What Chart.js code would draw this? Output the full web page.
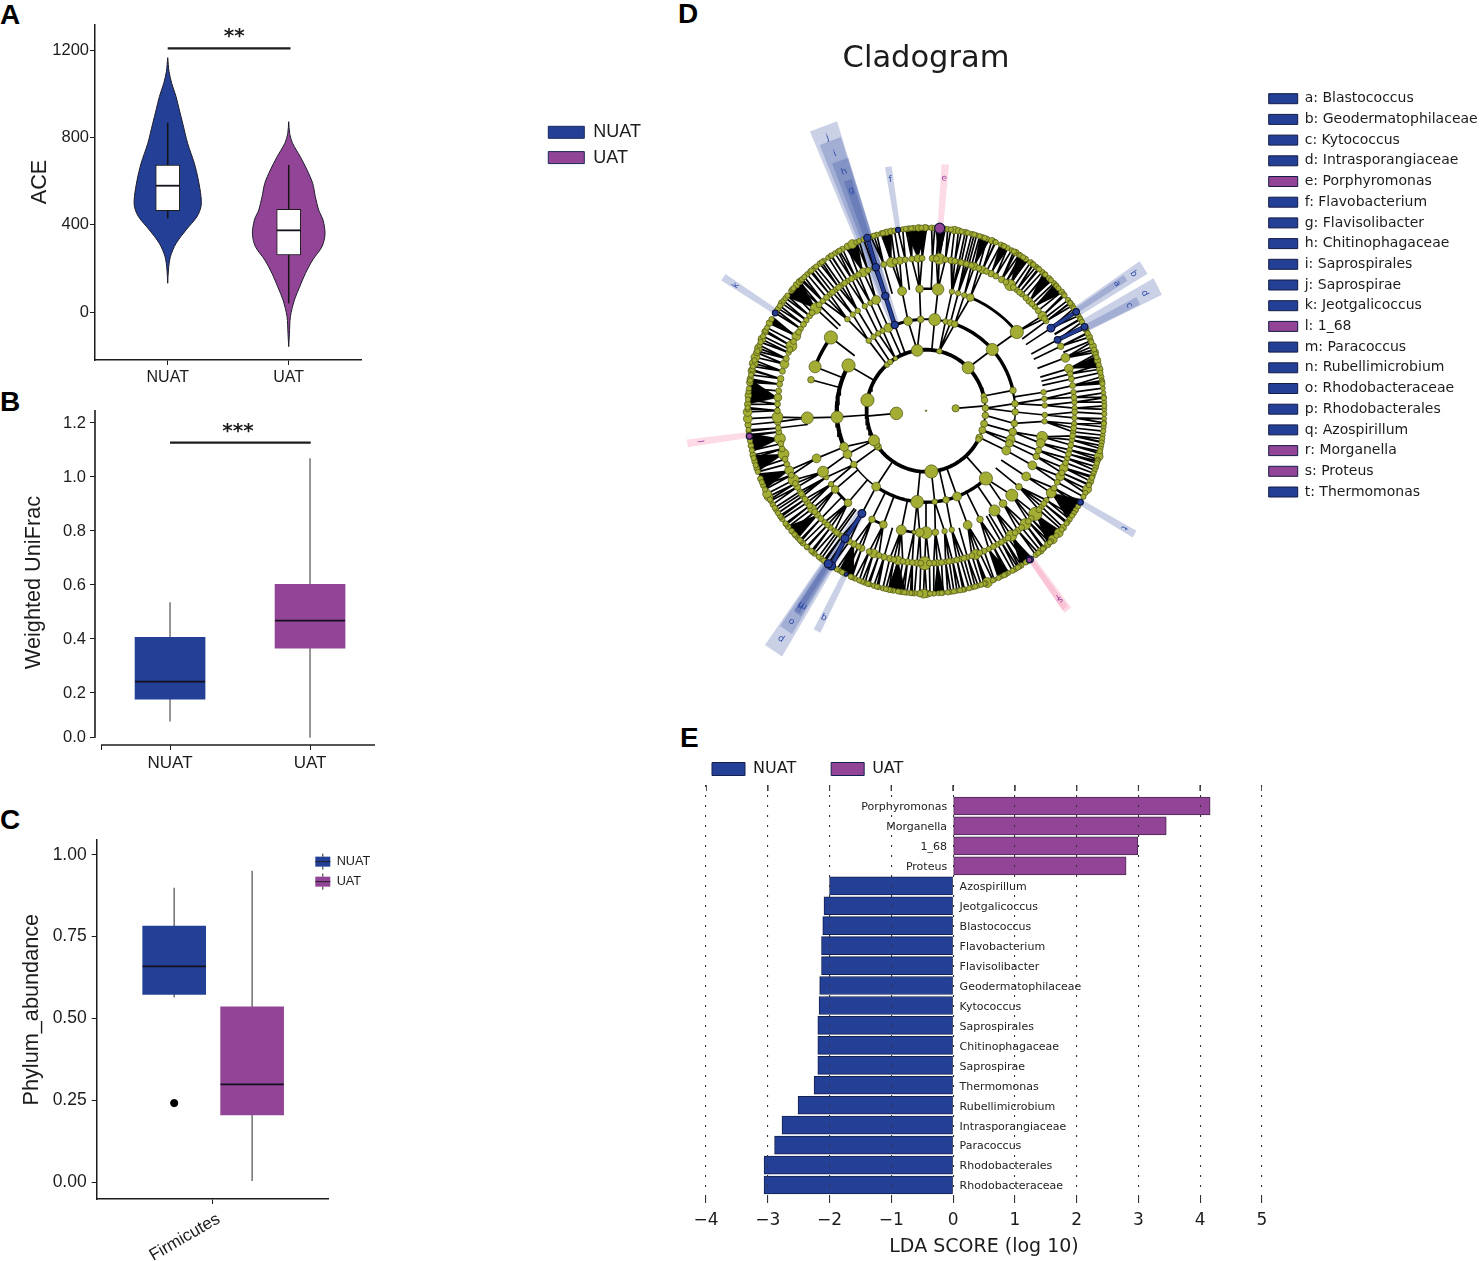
<!DOCTYPE html>
<html>
<head>
<meta charset="utf-8">
<title>NUAT vs UAT</title>
<script src="https://cdn.jsdelivr.net/npm/chart.js@4/dist/chart.umd.min.js"></script>
<style>
html, body { margin: 0; padding: 0; background: #fff; }
#page { position: relative; width: 1482px; height: 1261px; overflow: hidden; background: #fff; }
#page canvas { position: absolute; }
.letter { position: absolute; font: bold 28px "Liberation Sans", sans-serif; color: #000; line-height: 28px; }
</style>
</head>
<body>
<div id="page">
  <div class="letter" style="left:0;top:1px">A</div>
  <div class="letter" style="left:0;top:388px">B</div>
  <div class="letter" style="left:0;top:806px">C</div>
  <div class="letter" style="left:678px;top:0">D</div>
  <div class="letter" style="left:680px;top:724px">E</div>
</div>
<script>
// colours
const navy = '#233f96';
const purple = '#924597';
const ink = '#1c1c1c';
const olive = '#a3ad33';

// panel A, violins: value, half width of the violin in category units
const groups = ['NUAT', 'UAT'];
const aNuatValues = [1168, 1104, 1050, 989, 928, 866, 774, 683, 606, 530, 484, 438, 377, 315, 254, 193, 132];
const aNuatWidths = [0, .011, .033, .069, .096, .124, .165, .22, .253, .275, .275, .242, .152, .069, .022, .006, 0];
const aUatValues = [874, 820, 774, 713, 652, 591, 530, 468, 422, 357, 300, 239, 177, 116, 55, -21, -98, -159];
const aUatWidths = [0, .008, .033, .096, .152, .198, .22, .248, .284, .3, .275, .198, .138, .091, .047, .014, .006, 0];
// lo, q1, median, q3, hi
const aNuatBox = [430, 465, 580, 675, 869];
const aUatBox = [40, 262, 375, 471, 675];
const aTicks = [0, 400, 800, 1200];

// panel B
const bNuatBox = [.094, .177, .242, .406, .536];
const bUatBox = [.034, .366, .468, .602, 1.069];
const bTicks = [.034, .2, .4, .6, .8, 1, 1.2];

// panel C
const cNuatBox = [.564, .574, .659, .782, .899];
const cUatBox = [.004, .206, .299, .536, .951];
const cOutlier = .242;
const cTicks = [0, .25, .5, .75, 1];

// panel E
const ldaNames = ['Porphyromonas', 'Morganella', '1_68', 'Proteus', 'Azospirillum', 'Jeotgalicoccus', 'Blastococcus',
  'Flavobacterium', 'Flavisolibacter', 'Geodermatophilaceae', 'Kytococcus', 'Saprospirales', 'Chitinophagaceae',
  'Saprospirae', 'Thermomonas', 'Rubellimicrobium', 'Intrasporangiaceae', 'Paracoccus', 'Rhodobacterales', 'Rhodobacteraceae'];
const ldaScores = [4.16, 3.45, 2.99, 2.8, -2, -2.09, -2.11, -2.13, -2.13, -2.16, -2.17, -2.19, -2.19, -2.19, -2.25, -2.51, -2.77, -2.89, -3.06, -3.06];
const ldaTicks = [-4, -3, -2, -1, 0, 1, 2, 3, 4, 5];

// panel D legend
const cladeNames = ['a: Blastococcus', 'b: Geodermatophilaceae', 'c: Kytococcus', 'd: Intrasporangiaceae', 'e: Porphyromonas',
  'f: Flavobacterium', 'g: Flavisolibacter', 'h: Chitinophagaceae', 'i: Saprospirales', 'j: Saprospirae', 'k: Jeotgalicoccus',
  'l: 1_68', 'm: Paracoccus', 'n: Rubellimicrobium', 'o: Rhodobacteraceae', 'p: Rhodobacterales', 'q: Azospirillum',
  'r: Morganella', 's: Proteus', 't: Thermomonas'];
const cladeUat = ['e', 'l', 'r', 's'];

// panel D tree: nodes as [angle clockwise from top, radius in px], one list per ring
const level1 = [[85.5, 3.3], [265, 5.7]];
const level2 = [[-8.5, 5.3], [13, 2.5], [45.2, 5.5], [76, 2.5], [80, 3], [87.5, 3], [94.4, 3], [102.4, 3.2], [108.6, 3.2], [116, 3.2], [118, 2.6],
  [174.8, 6], [233.6, 3], [236, 3], [241, 5], [280, 6], [319, 2.5], [323, 2.5], [329, 2]];
const level3 = [[-40, 2.5], [-36, 2.5], [-32.4, 2.5], [-29, 2.5], [-24.9, 4], [-11.6, 4], [-3.4, 3], [5.6, 5.5], [12.6, 2.5], [15.9, 3], [18.8, 3], [48, 5.5],
  [77.2, 3], [85.6, 3], [90.8, 3], [98, 3], [103.4, 3.5], [108.3, 4], [111, 3.5], [115.8, 4],
  [137.8, 6], [159.6, 4], [167, 3], [174.4, 2.5], [185.7, 5.8], [214, 4], [234, 3], [241.7, 4], [246.7, 4], [266, 5.5], [299.7, 6]];
const level4 = [[-41.4, 2.5], [-38, 2.5], [-35, 2.5], [-31, 2.5], [-27.9, 2.5], [-24.8, 4], [-11.6, 4], [-3.1, 3.5], [5.8, 5.3], [12.6, 2.5], [15.7, 2.5], [18.8, 2.5], [21.9, 3.5], [49.8, 6],
  [81.3, 2.5], [84.4, 2.5], [87.5, 2.5], [92, 2.5], [95, 2.5], [102.4, 5], [105.4, 4], [109, 3], [112, 3], [116.6, 4],
  [122.6, 4], [128.6, 3], [133.8, 5.5], [139.6, 3.5], [144.8, 5], [153, 3], [159.5, 4], [167.5, 2.5], [171, 2.5], [175.5, 3],
  [180, 5.5], [183, 4], [185.8, 1.8], [192, 4.5], [201, 3.5], [207, 3], [221, 3.5], [229.8, 3.5], [233, 2.5], [237, 2.5], [240, 5], [247, 4], [266.6, 5.5], [284.7, 3], [291.1, 5.5], [306.9, 6]];
const level5 = [[2.5, 3], [5.1, 5], [9.7, 3], [12.8, 2.5], [14.9, 2.5], [16.7, 2.5], [19, 3.5], [22.4, 3.5], [26, 3], [30.6, 3], [34.5, 5], [37.6, 2.5], [40.2, 2.5], [44, 3], [47, 2.5], [51.5, 4], [54, 2.5],
  [65, 3], [69.7, 4], [74, 4], [83, 2.5], [86.8, 2.5], [89, 2.5], [92.7, 2.5], [94.9, 2.5], [98, 2.5], [101, 2.5], [104.9, 2.5], [108.2, 2.5], [112, 4], [115.5, 4],
  [122.6, 4.5], [125.9, 2.5], [129, 2.5], [132.6, 6], [138, 5], [141.8, 3], [145, 5], [148, 2.5], [151.2, 2.5], [155, 2.5], [160.5, 4.5], [163.8, 2.5], [166.6, 2.5], [169.7, 2.5], [172.4, 2.5], [175.7, 3],
  [180.5, 6], [183.5, 3], [187.2, 3], [190.9, 4], [194.1, 3], [196.4, 3], [200.7, 4], [205.6, 3], [209, 3], [216, 2.5], [218, 2.5], [220, 2.5], [223, 2.5], [227, 3], [230, 4], [233, 3], [236, 2.5], [238, 2.5], [240, 3], [243, 5], [247, 4],
  [253.5, 5], [259.5, 5], [265.8, 3], [267.6, 5], [275, 3.5], [282.1, 3], [287.8, 4], [292.4, 2.5], [295.1, 5], [299.3, 4], [302.5, 2.5], [306.4, 2.5], [312.1, 5], [316, 2.5], [319.7, 2.5], [322.5, 2.5], [325.2, 2.5], [328.2, 2.5], [331.5, 2.5], [335.1, 4], [346.6, 4.5], [349.8, 3.5], [356.9, 3.5]];
// smaller nodes of the fifth ring packed between the ones above
const level5Small = [4, 7.5, 11.2, 13.7, 15.8, 17.8, 20.8, 24, 28, 32.5, 36, 39, 42.2, 45.5, 49, 52.8, 76, 78, 80.5, 85, 90.5, 96.5, 99.5, 103, 106.5, 110, 114, 118, 120.5, 127.5, 130.5, 135, 136.5, 140, 143.2, 146.5, 149.5, 153, 157, 158.8, 162, 165.2, 168, 171, 174, 177, 178.7, 182, 185.3, 189, 192.5, 198.5, 202.5, 207, 211, 214.5, 217, 221.5, 225, 228.5, 231.5, 234.5, 237, 241.5, 245, 249.5, 251.5, 255.5, 257.5, 262, 263.5, 270, 272.5, 277.5, 280, 285, 290, 293.7, 297, 301, 304.5, 308.5, 310, 314, 318, 321, 324, 326.8, 330, 333, 337, 339.5, 343.5, 348, 352, 354.5, 358.5];
// fifth ring sectors with no branch going inward, the nodes hang on the thick arc
const openSectors = [[23, 49], [248, 262], [270, 288], [283, 311]];
const level6 = [[.2, 2.5], [1.8, 2.6], [9.2, 3.5], [10.5, 3], [12.7, 2.7], [14.9, 2.4], [16.5, 2.2], [18.4, 2.4], [20, 2.4], [21.7, 3], [24.8, 2.4], [27.2, 2.5], [28.7, 2.3], [30.2, 3], [34, 2.5], [35.9, 2.7], [38.1, 2.4], [40.7, 2.4], [43.6, 2.5], [45.8, 2.4], [49.5, 2.7], [52.8, 2.5], [55, 2.7], [58.7, 2.5],
  [63.4, 3], [66.3, 3], [69.4, 3.2], [71.4, 3.2], [74.1, 3], [76.9, 3], [79.3, 2.5], [82.9, 2.2], [84.4, 2.2], [87.3, 2.3], [89.6, 2.2], [92.5, 2.2], [95.1, 2.3], [97.7, 2.2], [99.8, 2.2], [103.5, 3], [104.5, 4], [107.8, 2.7], [112.7, 3], [115.4, 4],
  [122.9, 2.5], [126.4, 2.5], [129.7, 3], [131.9, 4], [134.7, 4], [137, 3], [140, 3], [142, 2.5], [147.7, 2.5], [150, 2.5], [152.5, 2.2], [155, 2.2], [157.5, 2.2], [159.9, 4.5], [163, 2.2], [165, 2.2], [167.5, 2.4], [170, 2.2], [172, 2.3], [174.5, 2.2], [176, 2.3], [179.8, 3.5],
  [180.8, 4], [182, 3], [183.7, 2.5], [188, 2.5], [190.5, 2.4], [194, 2.4], [197, 2.4], [200, 2.4], [203.5, 2.4], [209, 2.2], [216, 2.5], [218.7, 2.5], [221.7, 2.4], [223.6, 2.6], [226, 2.4], [228.6, 2.4], [230.6, 2.6], [233.7, 2.5], [237.1, 2.4], [239.2, 2.5], [242, 4], [243, 4], [245.9, 2.5], [248.2, 2.6], [251.6, 2.6], [253.9, 2.6], [256, 2.8], [259, 2.6],
  [265.6, 3], [267.5, 4], [269.6, 4], [272, 3], [274.8, 3], [278.9, 3], [280, 3], [282.6, 3.5], [285, 4], [287, 4], [288.5, 3], [290, 3.5], [293, 3.5], [295.5, 3], [298.6, 3], [306, 3], [310.9, 2.4], [313.4, 3], [314.8, 3], [318.2, 2.4], [321, 2.4], [323.5, 2.6], [325, 2.4], [326.8, 2.4], [329.3, 2.4], [332.1, 2.6], [333.9, 3], [335.6, 4], [344, 2.5], [345.6, 2.6], [347.2, 3], [348.7, 3], [354.4, 2.6], [356, 2.6], [357.6, 3], [359.7, 3]];
// further leaves packed between the outer nodes
const packedLeaves = [2.8, 4, 6, 7, 8, 11.5, 13.5, 15.7, 17.5, 19.2, 22.8, 23, 25.8, 26, 29.5, 31.5, 32, 33, 36.8, 37, 39, 39.4, 41.8, 42, 44.5, 46.8, 47, 48, 50.5, 51, 53.8, 54, 56, 59.8, 60, 61, 64.8, 65, 67.5, 68, 70.5, 72, 73, 75.5, 78, 80.5, 81, 81.5, 85.8, 86, 88.5, 91, 93.8, 94, 96.4, 98.8, 100, 101, 102, 102.8, 105.5, 106, 106.7, 109, 110, 111, 111.5, 113.8, 114, 116.7, 118,
  121.5, 124, 125, 127.5, 128, 130.5, 133, 135.5, 136, 138.5, 139, 141, 145.5, 146, 148.5, 149, 151, 153.5, 154, 156, 158, 160.5, 161, 162, 164, 166, 168, 169, 171, 173, 175, 177.5, 178.7,
  184.5, 185, 186.2, 187, 189, 191.5, 192, 193, 195.5, 196, 198.5, 199, 201, 202, 204.5, 205, 207, 208, 210, 214.5, 215, 217, 219.5, 220, 222, 224.5, 225, 227, 227.5, 229, 231.5, 232, 234.5, 235, 236, 238, 240.5, 241, 244.5, 247, 250.5, 252.7, 255, 257.5, 260.5,
  262.5, 263.5, 264, 270.5, 271, 273.5, 276, 277, 279.5, 281.3, 283, 284, 286, 289, 291, 292, 294, 296, 297, 300, 303.2, 304, 305, 307, 308, 309, 311.5, 312, 315.5, 316, 317, 319.5, 320, 322, 324.3, 327.8, 328, 330.5, 331, 337, 338, 339.5, 342, 343, 346, 349.8, 352.5, 353.5, 355.2, 358.5];
// collapsed clades, black wedges: apex ring, apex angle, first leaf angle, last leaf angle
const wedges = [[5, -3.1, -6.8, .5], [5, -13.4, -14.8, -11], [5, -25, -27, -22.5], [5, -47.9, -51.5, -44.5], [5, 5.1, 3, 6.5], [5, 19, 17.5, 21], [5, 26, 24.5, 27.5], [5, 34.5, 31, 35], [5, 44, 41, 45], [5, 47, 46, 50], [5, 74, 72.5, 76.5],
  [5, 122.6, 119, 127], [5, 132.6, 131, 137], [5, 145, 143.5, 148], [5, 155, 152, 156], [5, 175.7, 174, 177.5], [5, 190.9, 186.5, 192.5], [5, 209, 204, 209], [5, 227, 226, 231], [5, 247, 244.5, 250], [5, 253.5, 250.5, 256], [5, 259.5, 257, 263], [5, 275, 272, 280], [5, 299.3, 298.5, 301]];
// thick branches along the rings: ring, first angle, last angle, width
const ringArcs = [[2, 116, 436, 3.8], [2, 76, 116, 1.5], [3, 19, 76, 3.4], [3, -21, -3.4, 3], [3, -3.4, 19, 2], [3, 246.7, 299.7, 4.2], [3, 137.8, 214, 3.4], [3, 214, 246.7, 1.5], [3, 77, 116, 1.5],
  [4, 22, 49.8, 2.8], [4, 291, 307, 3.5], [4, 221, 232, 2.8], [4, 201, 207, 2.8], [4, 186, 192, 2.8], [4, -3.1, 5.8, 2.4], [5, 122.6, 132.6, 2.8], [5, 253.5, 275, 3]];
// biomarker nodes: letter, ring, angle, radius px
const cladeNodes = [['j', 3, -20.5, 3.3], ['i', 4, -20, 3.3], ['h', 5, -19.7, 3.3], ['g', 6, -19.2, 3.3], ['f', 6, -9, 2.3], ['e', 6, 4.4, 4.6], ['k', 6, -57.7, 2.6], ['l', 6, 262, 2.8],
  ['p', 4, 212.6, 3.5], ['o', 5, 213, 3.7], ['m', 6, 212, 3.7], ['n', 6, 213.2, 3.7], ['q', 6, 206.6, 1.7], ['b', 5, 57.2, 3.5], ['a', 6, 57.3, 3], ['d', 5, 62.3, 3], ['c', 6, 62.7, 3], ['t', 6, 120, 2.6], ['s', 6, 144.3, 3], ['r', 6, 144.6, 2.5]];
const cladeLinks = [['j', 'i'], ['i', 'h'], ['h', 'g'], ['p', 'o'], ['o', 'm'], ['b', 'a'], ['d', 'c']];
// shaded rays: letter, angle, half angle, inner ring, outer ring, ring of the letter
const cladeRays = [['j', -20.3, 2.8, 3, 9.95, 9.55], ['i', -20, 2.3, 4, 9.42, 8.96], ['h', -19.4, 1.9, 5, 8.7, 8.3], ['g', -19.2, 1, 6, 8, 7.65], ['f', -9, .8, 6, 8.1, 7.67], ['e', 4.6, .9, 6, 8.1, 7.64],
  ['k', -57.3, .9, 6, 8.1, 7.6], ['l', 262.4, .9, 6, 8.1, 7.6], ['p', 213.1, 2.1, 4, 9.4, 8.92], ['o', 213.2, 1.6, 5, 8.6, 8.26], ['m', 213, 1, 6, 7.95, 7.61], ['n', 213.4, .8, 6, 7.9, 7.66], ['q', 206.9, .9, 6, 8.1, 7.6],
  ['b', 57.3, 1.6, 6, 8.7, 8.3], ['a', 57, .8, 6, 8, 7.66], ['d', 62.4, 2, 6, 8.8, 8.3], ['c', 63.2, 1, 6, 8, 7.66], ['t', 120, .9, 6, 8.1, 7.69], ['s', 143.9, 1, 6, 8.1, 7.66], ['r', 144.2, .8, 6, 8, 7.55]];

Chart.defaults.font.family = '"Liberation Sans", Arial, sans-serif';
Chart.defaults.color = ink;

const page = document.getElementById('page');
function addCanvas(left, top, width, height) {
  const c = document.createElement('canvas');
  c.width = width; c.height = height;
  c.style.left = left + 'px'; c.style.top = top + 'px';
  c.style.width = width + 'px'; c.style.height = height + 'px';
  page.appendChild(c);
  return c.getContext('2d');
}

function makeChart(ctx, datasets, scales, extra) {
  return new Chart(ctx, {
    type: 'scatter',
    data: { datasets },
    options: Object.assign({
      responsive: false, animation: false, events: [],
      plugins: { legend: { display: false }, tooltip: { enabled: false } },
      scales
    }, extra && extra.options),
    plugins: (extra && extra.plugins) || []
  });
}

// text placed in data coordinates
function textMarks(items) {
  return {
    id: 'textMarks',
    afterDraw(chart) {
      const c = chart.ctx;
      items.forEach(t => {
        c.save();
        c.translate(chart.scales.x.getPixelForValue(t.x) + (t.dx || 0), chart.scales.y.getPixelForValue(t.y) + (t.dy || 0));
        if (t.rotate) c.rotate(t.rotate * Math.PI / 180);
        c.font = t.font;
        c.fillStyle = t.color || ink;
        c.textAlign = t.align || 'center';
        c.textBaseline = 'middle';
        c.fillText(t.text, 0, 0);
        c.restore();
      });
    }
  };
}

const setTicks = values => scale => { scale.ticks = values.map(v => ({ value: v })); };
const line = (points, color, width) => ({ data: points, showLine: true, pointRadius: 0, borderColor: color, borderWidth: width, backgroundColor: color });
const seg = (x0, y0, x1, y1) => [{ x: x0, y: y0 }, { x: x1, y: y1 }];

// box parts for groups at the given x, top dataset first
function boxSets(boxes, centers, halfWidth, fills, thickness, whiskerColor, whiskerWidth, boxBorder) {
  const sets = [];
  boxes.forEach((b, i) => sets.push(line(seg(centers[i] - halfWidth, b[2], centers[i] + halfWidth, b[2]), '#15101c', 1.8)));
  sets.push({
    type: 'bar', barThickness: thickness,
    data: boxes.map((b, i) => ({ x: centers[i], y: [b[1], b[3]] })),
    backgroundColor: fills, borderColor: boxBorder || fills, borderWidth: boxBorder ? 1 : 0, borderSkipped: false
  });
  boxes.forEach((b, i) => sets.push(line(seg(centers[i], b[0], centers[i], b[4]), whiskerColor, whiskerWidth)));
  return sets;
}

function axisY(ticks, width, min, max, size, pad, format) {
  return {
    type: 'linear', min, max, afterBuildTicks: setTicks(ticks),
    afterFit: s => { s.width = width; },
    border: { color: ink, width: 1.5 },
    grid: { drawOnChartArea: false, tickLength: 5, tickColor: ink },
    ticks: { font: { size }, padding: pad, color: ink, callback: format }
  };
}
function axisX(ticks, labels, height, min, max, size) {
  return {
    type: 'linear', min, max, offset: false, afterBuildTicks: setTicks(ticks),
    afterFit: s => { s.height = height; },
    border: { color: ink, width: 1.5 },
    grid: { offset: false, drawOnChartArea: false, tickLength: 5, tickColor: ink },
    ticks: { font: { size: size || 16 }, color: ink, padding: 3, autoSkip: false, maxRotation: 0, callback: v => labels[v] || '' }
  };
}
const yTitle = (text, x, y, dx) => ({ text, x, y, dx, rotate: -90, font: '21.7px "Liberation Sans"' });

// legend-only chart, one empty dataset per entry; rows wrap because the canvas is narrow
function legendChart(left, top, width, height, names, colors, opts, extra) {
  const ctx = addCanvas(left, top, width, height);
  new Chart(ctx, {
    type: 'bar',
    data: { datasets: names.map((n, i) => ({ label: n, data: [], backgroundColor: colors[i], borderColor: opts.border, borderWidth: opts.borderWidth })) },
    options: {
      responsive: false, animation: false, events: [],
      scales: { x: { display: false }, y: { display: false } },
      plugins: {
        tooltip: { enabled: false },
        legend: {
          position: 'top', align: 'start',
          labels: { boxWidth: opts.boxWidth, boxHeight: opts.boxHeight, padding: opts.padding, color: opts.color || ink, font: { size: opts.size, family: opts.family } }
        }
      }
    },
    plugins: extra || []
  });
}

// ---------- A
function violin(center, values, widths) {
  const right = values.map((v, i) => ({ x: center + widths[i], y: v }));
  const left = values.map((v, i) => ({ x: center - widths[i], y: v })).reverse();
  return right.concat(left);
}
function violinSet(center, values, widths, color) {
  return { data: violin(center, values, widths), showLine: true, pointRadius: 0, tension: .3, fill: 'shape', backgroundColor: color, borderColor: '#1d1d2b', borderWidth: 1 };
}
makeChart(addCanvas(0, 11, 375, 389), [
  line(seg(1, 1211, 2.015, 1211), ink, 2.2),
  ...boxSets([aNuatBox, aUatBox], [1, 2], .098, ['#fff', '#fff'], 24, '#141414', 1.5, ink),
  violinSet(1, aNuatValues, aNuatWidths, navy),
  violinSet(2, aUatValues, aUatWidths, purple)
], {
  x: axisX([1, 2], { 1: groups[0], 2: groups[1] }, 40, .399, 2.5975, 16),
  y: axisY(aTicks, 95, -220.4, 1318, 16.5, 1)
}, {
  options: { layout: { padding: { top: 14, right: 14 } } },
  plugins: [textMarks([
    { text: '**', x: 1.55, y: 1262, font: 'bold 20px "DejaVu Sans"' },
    yTitle('ACE', .399, 597, -55)
  ])]
});
legendChart(541, 116, 115, 130, groups, [navy, purple], { boxWidth: 36, boxHeight: 12, padding: 7.3, size: 18, border: '#1a2a5a', borderWidth: 1 });

// ---------- B
const bMin = .0074, bMax = 1.248, bLeft = .464, bRight = 2.464;
const bLabels = { 1: groups[0], 2: groups[1] };
const bx = axisX([.507, 1, 2], bLabels, 40, bLeft, bRight, 17);
bx.border = { display: false };
const by = axisY(bTicks, 95, bMin, bMax, 16.5, 4, v => v.toFixed(1));
by.border = { display: false };
makeChart(addCanvas(0, 396, 385, 389), [
  Object.assign(line(seg(bLeft, bTicks[0], bLeft, bMax), ink, 1.6), { clip: false }),
  Object.assign(line(seg(.507, bMin, bRight, bMin), ink, 1.6), { clip: false }),
  line(seg(1, 1.127, 2.005, 1.127), ink, 2.2),
  ...boxSets([bNuatBox, bUatBox], [1, 2], .25, [navy, purple], 70, '#7d7d7d', 1.6)
], { x: bx, y: by }, {
  options: { layout: { padding: { top: 14, right: 10 } } },
  plugins: [textMarks([
    { text: '***', x: 1.485, y: 1.168, font: 'bold 20px "DejaVu Sans"' },
    yTitle('Weighted UniFrac', bLeft, .609, -61)
  ])]
});

// ---------- C
const cx = axisX([.5], { .5: 'Firmicutes' }, 62, 0, 1, 17);
cx.ticks.maxRotation = 30; cx.ticks.minRotation = 30; cx.ticks.padding = 5; cx.ticks.labelOffset = 6;
makeChart(addCanvas(0, 824, 340, 437), [
  { data: [{ x: .334, y: cOutlier }], pointRadius: 3.6, backgroundColor: '#000', borderColor: '#000' },
  ...boxSets([cNuatBox, cUatBox], [.334, .67], .136, [navy, purple], 63, '#6f6f6f', 1.5)
], {
  x: cx,
  y: axisY(cTicks, 96.7, -.0508, 1.0465, 17.5, 5, v => v.toFixed(2))
}, {
  options: { layout: { padding: { top: 14, right: 11.3 } } },
  plugins: [textMarks([yTitle('Phylum_abundance', 0, .527, -65)])]
});
const keyMarks = {
  id: 'keyMarks',
  afterDraw(chart) {
    const c = chart.ctx;
    chart.legend.legendHitBoxes.forEach(b => {
      const mx = b.left + 7.5, my = b.top + b.height / 2;
      c.strokeStyle = '#222'; c.lineWidth = 1;
      c.beginPath(); c.moveTo(b.left, my); c.lineTo(b.left + 15, my);
      c.moveTo(mx, my - 8); c.lineTo(mx, my - 5); c.moveTo(mx, my + 5); c.lineTo(mx, my + 8);
      c.stroke();
    });
  }
};
legendChart(308, 848, 70, 110, ['NUAT', 'UAT'], [navy, purple], { boxWidth: 15, boxHeight: 10, padding: 7.3, size: 12.7 }, [keyMarks]);

// ---------- D
const rad = a => a * Math.PI / 180;
const polar = (ring, angle) => ({ x: ring * Math.sin(rad(angle)), y: ring * Math.cos(rad(angle)) });
const gap = () => ({ x: NaN, y: NaN });
const norm = a => ((a % 360) + 360) % 360;
const angleDiff = (a, b) => Math.abs(norm(a - b + 180) - 180);
const isUat = letter => cladeUat.includes(letter);

const leafNodes = level6.concat(packedLeaves.map(a => [a, 2.4]));
const ring5Nodes = level5.concat(level5Small.map(a => [a, 2.7]));
const rings = [[], level1, level2, level3, level4, ring5Nodes, leafNodes];
const ringsAll = rings.map((list, ring) => list.concat(cladeNodes.filter(n => n[1] === ring).map(n => [n[2], n[3]])));
const reach = [0, 0, 0, 6, 4, 3, 2];
const branchPoints = [];
function addBranch(ring, angle) {
  let best = null, bestDiff = 1e9;
  ringsAll[ring - 1].forEach(p => {
    const d = angleDiff(angle, p[0]);
    if (d < bestDiff) { bestDiff = d; best = p; }
  });
  const from = polar(ring, angle);
  const to = best && bestDiff <= reach[ring] ? polar(ring - 1, best[0]) : polar(ring - 1, angle);
  branchPoints.push(from, to, gap());
}
const inOpenSector = a => openSectors.some(s => norm(a) >= s[0] && norm(a) <= s[1]);
for (let ring = 3; ring <= 6; ring++) {
  ringsAll[ring].forEach(n => {
    if (ring === 5 && inOpenSector(n[0])) return;
    addBranch(ring, n[0]);
  });
}
// the two first-ring nodes join the second ring
level1.forEach(n => branchPoints.push(polar(1, n[0]), polar(2, n[0]), gap()));

const arcPoints = (ring, a0, a1) => {
  const pts = [];
  for (let a = a0; a < a1; a += 2) pts.push(polar(ring, a));
  pts.push(polar(ring, a1));
  return pts;
};
const treeSets = [];
const cladeByLetter = {};
cladeNodes.forEach(n => { cladeByLetter[n[0]] = n; });
// nodes on top
treeSets.push({
  data: cladeNodes.map(n => polar(n[1], n[2])), pointRadius: cladeNodes.map(n => n[3] * 1.1),
  backgroundColor: cladeNodes.map(n => isUat(n[0]) ? purple : navy), borderColor: '#101438', borderWidth: 1.2
});
const greenNodes = rings.flatMap((list, ring) => list.map(n => ({ p: polar(ring, n[0]), r: n[1] * 1.1 })));
treeSets.push({
  data: [{ x: 0, y: 0 }].concat(greenNodes.map(n => n.p)), pointRadius: [.8].concat(greenNodes.map(n => n.r)),
  backgroundColor: olive, borderColor: '#4a5214', borderWidth: .7
});
cladeLinks.forEach(l => {
  const a = cladeByLetter[l[0]], b = cladeByLetter[l[1]];
  treeSets.push(line([polar(a[1], a[2]), polar(b[1], b[2])], navy, 3));
  treeSets.push(line([polar(a[1], a[2]), polar(b[1], b[2])], '#10143c', 4.6));
});
ringArcs.forEach(r => treeSets.push(line(arcPoints(r[0], r[1], r[2]), '#000', r[3])));
wedges.forEach(w => treeSets.push({
  data: [polar(w[0], w[1]), polar(6, w[2]), polar(6, w[3])], showLine: true, pointRadius: 0, fill: 'shape',
  backgroundColor: '#000', borderColor: '#000', borderWidth: .5
}));
treeSets.push(line(branchPoints, '#000', 1.7));
cladeRays.forEach(r => treeSets.push({
  data: [polar(r[3], r[1] - r[2]), polar(r[4], r[1] - r[2]), polar(r[4], r[1] + r[2]), polar(r[3], r[1] + r[2])],
  showLine: true, pointRadius: 0, borderWidth: 0, fill: 'shape',
  backgroundColor: isUat(r[0]) ? 'rgba(246,160,188,.38)' : 'rgba(35,63,150,.24)', borderColor: 'rgba(0,0,0,0)'
}));
const letterMarks = cladeRays.map(r => Object.assign({
  text: r[0], rotate: r[1], font: '9px "DejaVu Sans"', color: isUat(r[0]) ? '#a0479f' : '#2f4aa8'
}, polar(r[5], r[1])));
const pxPerRingX = 30.6, pxPerRingY = 31.2;
const hiddenScale = (lo, hi) => ({ type: 'linear', display: false, min: lo, max: hi });
makeChart(addCanvas(670, 30, 512, 650), treeSets, {
  x: hiddenScale(-256 / pxPerRingX, 256 / pxPerRingX),
  y: hiddenScale((412 - 680) / pxPerRingY, (412 - 30) / pxPerRingY)
}, {
  plugins: [textMarks(letterMarks.concat([{ text: 'Cladogram', x: 0, y: (412 - 52) / pxPerRingY, font: '30.5px "DejaVu Sans"' }]))]
});
legendChart(1262.3, 85, 220, 860, cladeNames, cladeNames.map(n => isUat(n[0]) ? purple : navy),
  { boxWidth: 29, boxHeight: 10, padding: 6.7, size: 14, family: '"DejaVu Sans"', border: '#141c44', borderWidth: 1 });

// ---------- E
const topTicks = ldaTicks.flatMap(t => [{ x: t, y: -1.05 }, { x: t, y: -.75 }, gap()]);
const ldaLabels = ldaNames.map((n, i) => ({
  text: n, x: 0, y: i, dy: 1.5, dx: ldaScores[i] > 0 ? -6 : 6.5, align: ldaScores[i] > 0 ? 'right' : 'left', font: '11px "DejaVu Sans"', color: '#222'
}));
makeChart(addCanvas(680, 770, 610, 491), [
  line(topTicks, '#444', 1),
  {
    type: 'bar', indexAxis: 'y', barThickness: 18,
    data: ldaScores.map((v, i) => ({ x: v, y: i })),
    backgroundColor: ldaScores.map(v => v > 0 ? purple : navy),
    borderColor: ldaScores.map(v => v > 0 ? '#4a2a50' : '#14204e'), borderWidth: 1, borderSkipped: false
  }
], {
  x: {
    type: 'linear', min: -4, max: 5, afterBuildTicks: setTicks(ldaTicks), afterFit: s => { s.height = 64; },
    border: { display: false, dash: [2, 8] },
    grid: { color: '#333', lineWidth: 1.1, z: 1, tickLength: 6, tickColor: '#333' },
    ticks: { font: { size: 17, family: '"DejaVu Sans"' }, color: ink, padding: 7, callback: v => String(v).replace('-', '\u2212') },
    title: { display: true, text: 'LDA SCORE (log 10)', font: { size: 19, family: '"DejaVu Sans"' }, color: ink, padding: { top: 0, bottom: 3 } }
  },
  y: { type: 'linear', display: false, reverse: true, offset: false, grid: { offset: false }, min: -1.053, max: 19.6 }
}, {
  options: { layout: { padding: { left: 26, right: 28, top: 15 } } },
  plugins: [textMarks(ldaLabels)]
});
legendChart(677, 726, 340, 220, groups, [navy, purple], { boxWidth: 33, boxHeight: 13, padding: 35, size: 16, family: '"DejaVu Sans"', border: '#14204e', borderWidth: 1 });
</script>
</body>
</html>
